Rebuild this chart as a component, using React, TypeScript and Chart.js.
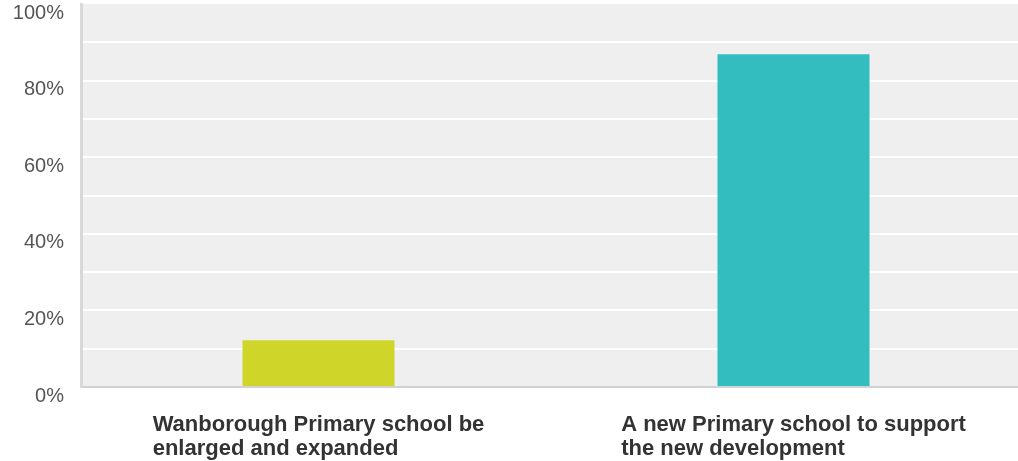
import React, { useEffect, useRef } from "react";
import { Chart, registerables } from "chart.js";

Chart.register(...registerables);

const categories: string[][] = [
  ["Wanborough Primary school be", "enlarged and expanded"],
  ["A new Primary school to support", "the new development"],
];
const values: number[] = [12.2, 86.9];
const barColors: string[] = ["#d0d52a", "#34bdbf"];
const yTickValues: number[] = [0, 20, 40, 60, 80, 100];

const bgPlugin = {
  id: "plotBg",
  beforeDraw(chart: any) {
    const { ctx, chartArea } = chart;
    ctx.save();
    ctx.fillStyle = "#efefef";
    ctx.fillRect(chartArea.left, chartArea.top, chartArea.right - chartArea.left, chartArea.bottom - chartArea.top);
    ctx.restore();
  },
};

const xLabelPlugin = {
  id: "xLabels",
  afterDraw(chart: any) {
    const { ctx } = chart;
    const xs = chart.scales.x;
    ctx.save();
    ctx.font = "bold 22px 'Liberation Sans', Arial, sans-serif";
    ctx.fillStyle = "#333333";
    ctx.textAlign = "left";
    ctx.textBaseline = "alphabetic";
    categories.forEach((lines, i) => {
      const cx = xs.getPixelForValue(i);
      const w = Math.max(...lines.map((l) => ctx.measureText(l).width));
      const left = cx - w / 2;
      lines.forEach((line, j) => {
        ctx.fillText(line, left, 431 + j * 23.5);
      });
    });
    ctx.restore();
  },
};

export default function App() {
  const ref = useRef<HTMLCanvasElement | null>(null);
  useEffect(() => {
    if (!ref.current) return;
    const chart = new Chart(ref.current, {
      type: "bar",
      data: {
        labels: categories.map((c) => c.join(" ")),
        datasets: [
          {
            data: values,
            backgroundColor: barColors,
            borderWidth: 0,
            barPercentage: 0.32,
            categoryPercentage: 1,
          },
        ],
      },
      plugins: [bgPlugin, xLabelPlugin],
      options: {
        animation: false,
        responsive: false,
        layout: { padding: { top: 4, left: 0, right: 0, bottom: 0 } },
        plugins: { legend: { display: false }, tooltip: { enabled: false } },
        scales: {
          x: {
            grid: { display: false, drawTicks: false },
            border: { color: "#d2d2d2", width: 2 },
            ticks: { display: false },
            afterFit(scale: any) {
              scale.height = 74;
              scale.paddingLeft = 0;
              scale.paddingRight = 0;
            },
          },
          y: {
            min: 0,
            max: 100,
            ticks: {
              stepSize: 10,
              padding: 17,
              labelOffset: 9,
              color: "#555555",
              font: { family: "'Liberation Sans', Arial, sans-serif", size: 20 },
              callback: (v: any) => (yTickValues.includes(Number(v)) ? v + "%" : ""),
            },
            grid: {
              drawTicks: false,
              lineWidth: 2,
              color: (c: any) =>
                c.tick && (c.tick.value === 0 || c.tick.value === 100) ? "rgba(0,0,0,0)" : "#ffffff",
            },
            border: { color: "#d8d8d8", width: 3 },
            afterFit(scale: any) {
              scale.width = 81;
              scale.paddingTop = 0;
              scale.paddingBottom = 0;
            },
          },
        },
      },
    });
    return () => chart.destroy();
  }, []);
  return (
    <div style={{ position: "fixed", left: 0, top: 0, width: 1018, height: 461, overflow: "hidden", background: "#fff" }}>
      <canvas ref={ref} width={1031} height={461} style={{ display: "block" }} />
    </div>
  );
}
